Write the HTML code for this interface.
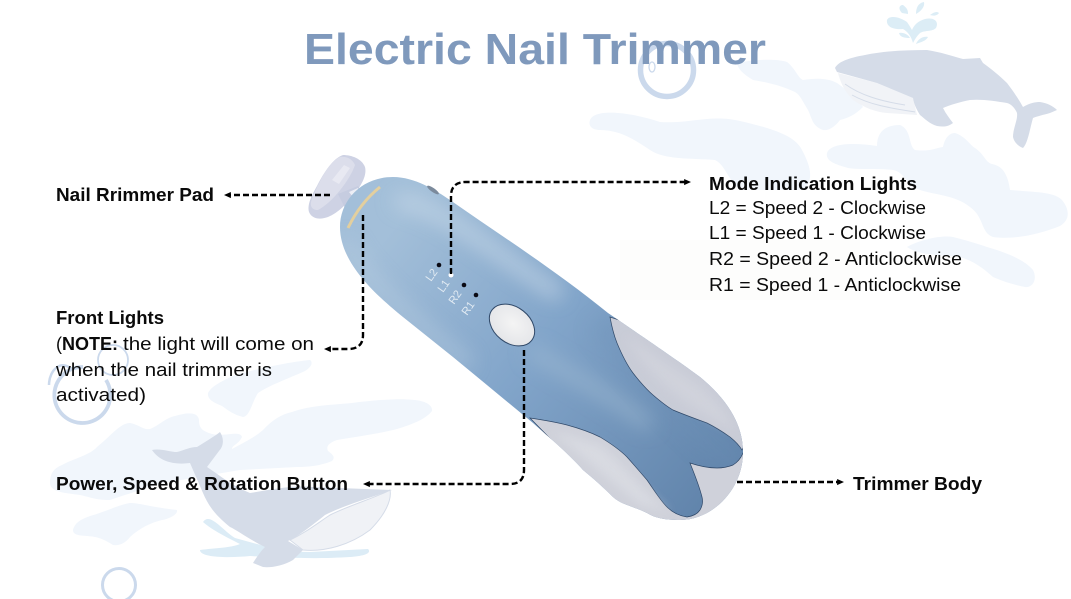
<!DOCTYPE html>
<html><head><meta charset="utf-8"><style>html,body{margin:0;padding:0;background:#fff}svg{display:block}text{font-family:"Liberation Sans",sans-serif;fill:#0a0a0a;font-size:18px}</style></head><body>
<svg width="1071" height="599" viewBox="0 0 1071 599" xmlns="http://www.w3.org/2000/svg">
<defs>
<clipPath id="bc"><path id="b" d="M340 227C340 200 362 177 393 177C415 177 435 190 450 200C500 235 555 270 608 313C640 335 680 362 700 377C728 400 743 425 743 452C743 490 712 520 680 520C665 520 655 518 647 513C630 505 622 505 613 497C603 487 595 480 583 470C570 455 550 438 533 423L453 357L403 317C380 298 340 265 340 227Z"/></clipPath>
<linearGradient id="bg2" gradientUnits="userSpaceOnUse" x1="400" y1="220" x2="720" y2="480"><stop offset="0" stop-color="#a3bfd9"/><stop offset=".45" stop-color="#82a5ca"/><stop offset="1" stop-color="#6285ac"/></linearGradient>
<filter id="bl" filterUnits="userSpaceOnUse" x="0" y="0" width="1071" height="599"><feGaussianBlur stdDeviation="10"/></filter>
<filter id="bs" filterUnits="userSpaceOnUse" x="0" y="0" width="1071" height="599"><feGaussianBlur stdDeviation="5"/></filter>
<radialGradient id="btn" cx=".5" cy=".45" r=".7"><stop offset="0" stop-color="#f4f4f4"/><stop offset=".7" stop-color="#e6e7ea"/><stop offset="1" stop-color="#c9ccd2"/></radialGradient>
<marker id="m" viewBox="0 0 8 8" refX="1" refY="4" markerWidth="7" markerHeight="8" markerUnits="userSpaceOnUse" orient="auto"><path d="M0 0.5L0 7.5L8 4Z" fill="#000"/></marker>
</defs>

<rect x="620" y="240" width="240" height="60" fill="#fdfdfc"/>

<!-- water blobs -->
<g fill="#f1f6fc">
<path d="M590 120C595 108 630 112 660 122C690 124 710 114 740 121C770 128 795 135 802 150C810 165 815 180 803 190L740 190C725 175 725 165 715 160C690 158 665 160 650 150C635 140 620 130 600 130C592 130 588 126 590 120Z"/>
<path d="M737 63C750 60 775 58 787 62C795 68 798 78 803 80C815 78 828 78 837 83C850 92 858 100 863 107C855 115 848 118 840 120C835 127 828 131 823 130C812 126 812 118 808 110C802 100 800 95 795 92C780 85 765 82 753 80C745 75 738 70 737 63Z"/>
<path d="M827 153C830 144 850 142 877 146C877 132 885 125 900 125C912 130 908 145 915 150C930 152 935 148 943 147C945 137 950 133 955 133C965 136 970 145 975 148C985 155 985 162 992 164C1003 166 1008 175 1010 190C1035 192 1055 192 1062 200C1070 210 1070 220 1060 226C1040 234 1015 240 993 237C980 232 985 218 970 207C955 195 935 195 920 190C905 185 905 172 893 170C875 168 860 170 848 168C838 165 825 162 827 153Z"/>
<path d="M907 247C920 240 940 235 953 237C965 240 975 243 987 247C1005 252 1025 260 1033 270C1038 280 1032 288 1025 287C1010 284 1000 280 993 277C980 265 970 260 960 257C945 255 920 256 907 247Z"/>
<path d="M50 483C50 472 55 468 62 465C75 458 90 455 97 447C110 437 120 423 130 423C140 425 143 430 150 429C160 425 165 418 175 416C188 412 198 412 199 420C199 428 202 431 212 434C225 437 240 430 242 437C238 445 232 445 232 449C245 442 255 437 263 430C272 420 282 414 292 412C312 405 332 405 352 403C375 400 400 398 415 400C425 401 433 405 432 411C425 420 410 425 397 429C378 434 355 437 337 440C328 443 326 447 328 451C332 454 336 457 332 461C320 466 308 467 297 467L240 470L163 483C140 490 125 495 110 500C95 500 90 497 80 495C65 493 50 492 50 483Z"/>
<path d="M208 393C212 385 225 380 235 375C260 368 290 362 310 360C314 363 310 368 305 371C285 380 270 385 258 393C252 402 250 416 243 417C232 414 228 410 222 406C215 403 207 400 208 393Z"/>
<path d="M73 530C75 522 82 519 90 516C105 512 118 505 130 503C140 503 150 507 177 510C178 515 168 519 162 520C150 523 140 528 130 537C125 544 118 546 113 545C105 540 100 538 95 537C85 535 73 537 73 530Z"/>
</g>
<path d="M200 550C215 548 230 548 240 544C228 538 212 530 203 522C210 512 222 530 235 538C260 545 285 552 310 552L368 549C372 553 365 556 350 557C320 559 280 558 250 556C230 558 200 558 200 550Z" fill="#dcecf6"/>
<g fill="#dcedf6">
<path d="M913 43C911 36 908 32 903 29C892 30 886 26 887 20C890 14 902 18 907 22C909 25 911 28 912 30C914 25 918 21 925 19C935 17 939 22 936 28C932 32 925 30 920 33C917 36 915 39 913 43Z"/>
<path d="M902 13C898 9 899 5 903 5C907 8 908 10 908 14Z"/>
<path d="M916 14C916 8 918 3 924 2C925 7 921 11 916 14Z"/>
<path d="M930 15C934 12 937 11 939 13C937 16 933 16 930 15Z"/>
<path d="M899 33C902 32 908 34 910 38C904 38 900 37 899 33Z"/>
<path d="M916 44C918 39 923 36 928 37C926 41 921 42 916 44Z"/>
</g>

<!-- bubbles -->
<g fill="none" stroke="#cbd9ec">
<circle cx="667" cy="70" r="26.5" stroke-width="5.5"/>
<path d="M83 367A28 28 0 1 0 106 380" stroke-width="3.8"/>
<path d="M49 385A14 20 0 0 1 72 370" stroke-width="2.5"/>
<circle cx="113" cy="360" r="15" stroke-width="1.8"/>
<circle cx="119" cy="585" r="16.5" stroke-width="3"/>
<ellipse cx="652" cy="67" rx="3" ry="5" stroke-width="1.3"/>
</g>

<!-- whales -->
<path d="M838 73C842 88 848 95 853 100C865 108 875 112 887 113L917 115L913 98L877 83Z" fill="#f1f3f7"/>
<path d="M845 84C860 95 880 101 905 105M852 95C870 105 890 108 915 112" fill="none" stroke="#d5dce8" stroke-width="1"/>
<path d="M835 68C838 62 848 58 865 55C885 51 905 50 927 50C940 52 952 56 963 59L980 58L983 63C990 68 1000 76 1007 83C1014 92 1019 100 1023 107C1030 103 1035 102 1040 102C1047 103 1053 106 1057 110L1050 113C1043 115 1038 116 1033 118C1030 128 1028 143 1023 148C1018 146 1014 142 1013 137C1013 128 1018 120 1017 113C1015 108 1011 104 1007 103C995 101 982 99 970 100C960 102 950 105 943 108C946 114 950 119 953 123C948 127 943 127 937 126C930 124 925 119 920 115C917 110 914 105 913 98L877 83L837 72Z" fill="#d5dce8"/>
<path d="M390 490C375 498 350 505 330 515C315 525 305 533 290 540L303 550C325 552 350 545 370 530C385 515 392 500 390 490Z" fill="#f0f2f6" stroke="#d5dce8" stroke-width="1"/>
<path d="M152 450C160 448 170 452 177 452C185 450 190 447 197 447C205 442 215 436 220 432C224 438 224 446 219 451L207 467C218 474 232 486 250 493C270 490 290 485 313 487L392 490C370 498 345 505 325 515C310 527 300 535 288 541L303 550L293 560C283 566 270 568 263 567L253 563C258 555 262 550 265 547C250 540 237 530 230 527C215 515 208 505 203 493L190 463C175 465 160 462 152 450Z" fill="#d5dce8"/>

<!-- title -->
<text x="304" y="64" textLength="462" lengthAdjust="spacingAndGlyphs" style="font-size:44px;font-weight:700;fill:#7f99bc">Electric Nail Trimmer</text>

<!-- pad -->
<path d="M343 155C352 155 362 159 365 167C367 175 362 184 356 192C348 203 338 213 328 217C320 220 312 219 309 212C307 204 312 195 317 186C323 174 333 158 343 155Z" fill="#ced2e4"/>
<path d="M340 157C348 156 353 160 355 165C350 180 332 203 318 210C312 210 309 206 312 199C317 186 328 162 340 157Z" fill="#dcdeeb"/>
<path d="M332 180L344 165L350 168L339 184Z" fill="#e8e9f2"/>
<path d="M338 194L358 186L364 195L348 214Z" fill="#c6cce0"/>
<path d="M349 192L358 188L360 193L353 197Z" fill="#eceef5"/>

<!-- body -->
<use href="#b" fill="url(#bg2)"/>
<g clip-path="url(#bc)">
<path d="M345 240C355 270 400 310 470 365" stroke="#b8cde0" stroke-width="12" fill="none" filter="url(#bl)" opacity=".65"/>
<path d="M395 200C440 205 490 250 560 295" stroke="#c8d9e8" stroke-width="13" fill="none" filter="url(#bl)" opacity=".8"/>
<path d="M530 350C570 375 610 395 650 425" stroke="#a3bdd4" stroke-width="8" fill="none" filter="url(#bl)"/>
<path d="M600 320C640 370 690 420 745 470" stroke="#6d90b6" stroke-width="30" fill="none" filter="url(#bl)" opacity=".3"/>
<path d="M610 317C612 328 615 338 617 343C622 355 627 365 633 373C640 382 646 389 653 395C660 401 666 406 673 410C685 415 696 419 707 423C715 427 723 432 730 437C735 441 739 445 742 450L770 400L680 340Z" fill="#c9ccd7" stroke="#2f4868" stroke-width=".7"/>
<path d="M530 418C543 420 555 422 567 425C578 428 590 432 600 437C610 443 620 450 627 457C635 466 641 473 647 480C654 490 660 500 667 507C673 513 680 516 687 517C694 516 698 513 700 510C703 505 703 501 702 497C699 485 694 473 690 463C699 466 708 468 717 468C723 468 728 467 733 465C738 462 741 458 743 453L770 500L690 540L620 510Z" fill="#cfd1da" stroke="#2f4868" stroke-width=".7"/>
<path d="M625 335L700 385C722 405 732 420 735 432L700 412C670 395 640 365 625 335Z" fill="#d4d6de" filter="url(#bs)" opacity=".6"/>
<path d="M550 430L600 445C625 465 645 495 670 512L640 505Z" fill="#dcdee4" filter="url(#bs)" opacity=".7"/>
</g>

<path d="M380 187Q360 203 348 228" fill="none" stroke="#e3cf9e" stroke-width="3"/>
<ellipse cx="433" cy="190" rx="7" ry="2" transform="rotate(35 433 190)" fill="#7b8a9c"/>

<!-- button -->
<ellipse cx="512" cy="325" rx="25" ry="18" transform="rotate(38 512 325)" fill="url(#btn)" stroke="#2f4868" stroke-width="1"/>

<!-- indicators -->
<circle cx="439" cy="265" r="2.3" fill="#0a0a14"/>
<circle cx="451" cy="275" r="2.5" fill="#fff"/>
<circle cx="464" cy="285" r="2.3" fill="#0a0a14"/>
<circle cx="476" cy="295" r="2.3" fill="#0a0a14"/>
<text transform="translate(431 282) rotate(-55)" style="font-size:11px;fill:#e2ebf3">L2</text>
<text transform="translate(443 293) rotate(-55)" style="font-size:11px;fill:#e2ebf3">L1</text>
<text transform="translate(454 305) rotate(-55)" style="font-size:11px;fill:#e2ebf3">R2</text>
<text transform="translate(467 316) rotate(-55)" style="font-size:11px;fill:#e2ebf3">R1</text>

<!-- connectors -->
<g fill="none" stroke="#000" stroke-width="2.4" stroke-dasharray="6 3">
<path d="M330 195L230 195" marker-end="url(#m)"/>
<path d="M451 274L451 196Q451 182 466 182L685 182" marker-end="url(#m)"/>
<path d="M363 215L363 335Q363 349 348 349L330 349" marker-end="url(#m)"/>
<path d="M524 350L524 470Q524 484 510 484L369 484" marker-end="url(#m)"/>
<path d="M737 482L838 482" marker-end="url(#m)"/>
</g>

<!-- labels -->
<g style="font-weight:700">
<text x="56" y="201" textLength="158" lengthAdjust="spacingAndGlyphs">Nail Rrimmer Pad</text>
<text x="709" y="190" textLength="208" lengthAdjust="spacingAndGlyphs">Mode Indication Lights</text>
<text x="56" y="324" textLength="108" lengthAdjust="spacingAndGlyphs">Front Lights</text>
<text x="62" y="350" textLength="56" lengthAdjust="spacingAndGlyphs">NOTE:</text>
<text x="56" y="490" textLength="292" lengthAdjust="spacingAndGlyphs">Power, Speed &amp; Rotation Button</text>
<text x="853" y="490" textLength="129" lengthAdjust="spacingAndGlyphs">Trimmer Body</text>
</g>
<text x="709" y="214" textLength="217" lengthAdjust="spacingAndGlyphs">L2 = Speed 2 - Clockwise</text>
<text x="709" y="239" textLength="217" lengthAdjust="spacingAndGlyphs">L1 = Speed 1 - Clockwise</text>
<text x="709" y="265" textLength="253" lengthAdjust="spacingAndGlyphs">R2 = Speed 2 - Anticlockwise</text>
<text x="709" y="291" textLength="252" lengthAdjust="spacingAndGlyphs">R1 = Speed 1 - Anticlockwise</text>
<text x="56" y="350">(</text>
<text x="123" y="350" textLength="191" lengthAdjust="spacingAndGlyphs">the light will come on</text>
<text x="56" y="376" textLength="216" lengthAdjust="spacingAndGlyphs">when the nail trimmer is</text>
<text x="56" y="401" textLength="90" lengthAdjust="spacingAndGlyphs">activated)</text>
</svg>
</body></html>
